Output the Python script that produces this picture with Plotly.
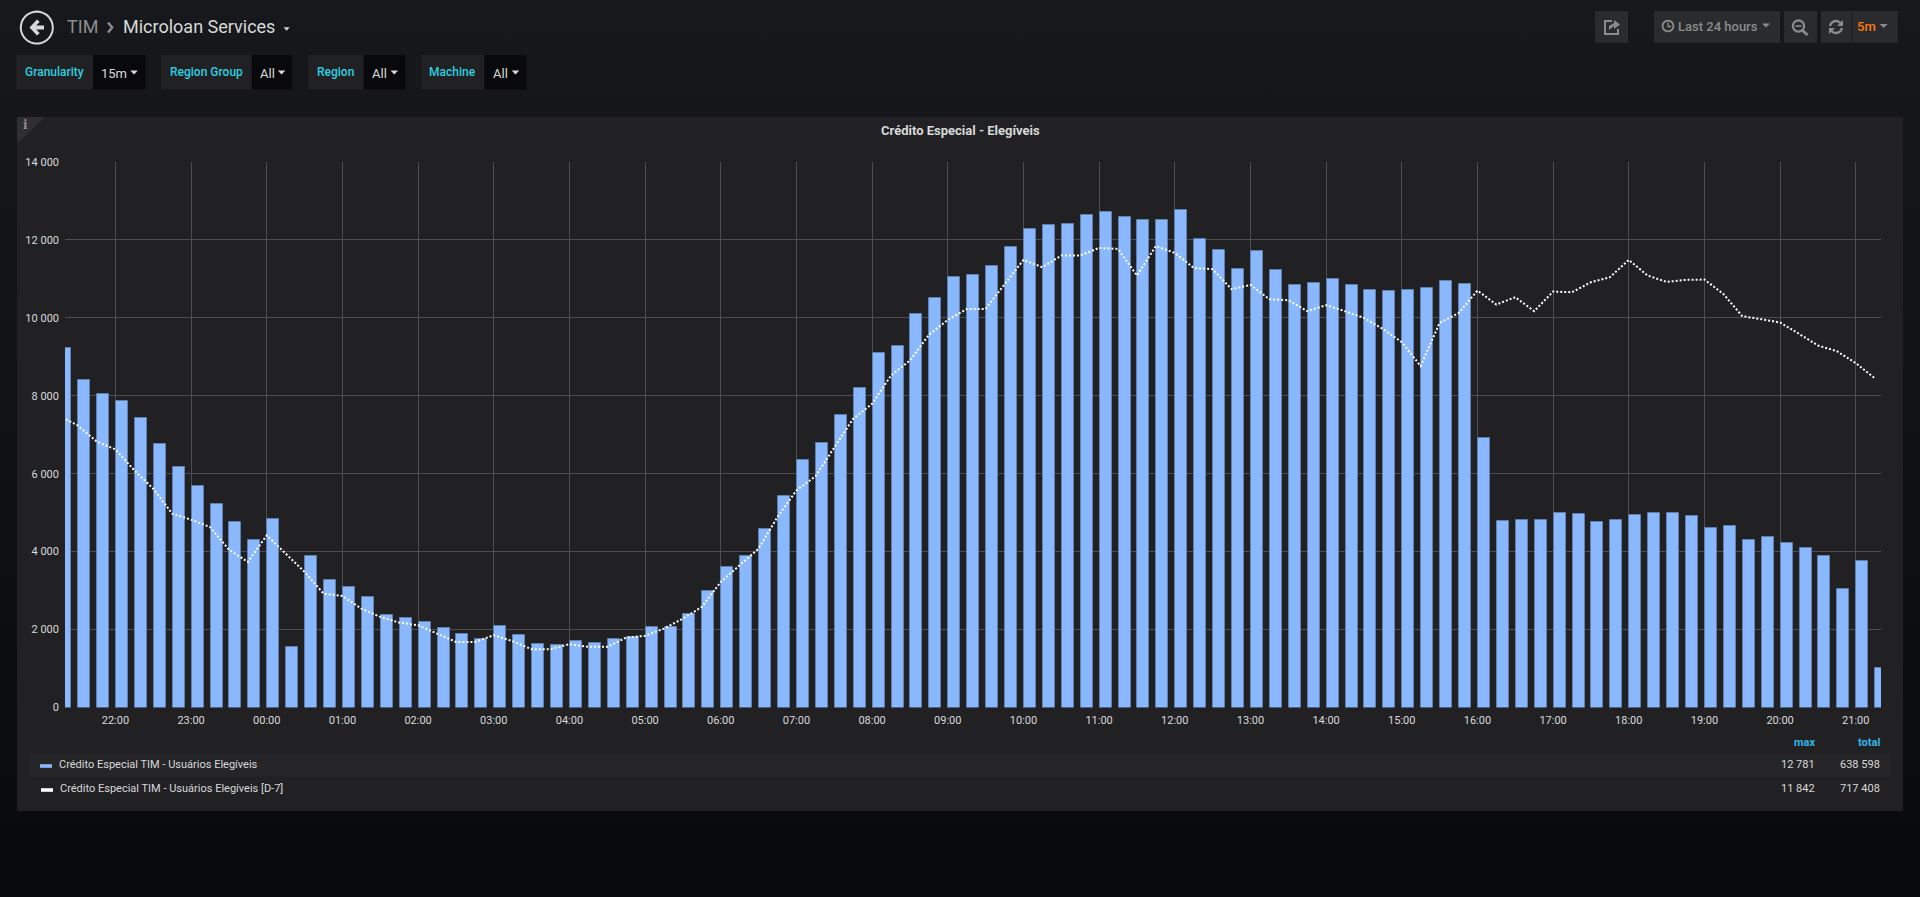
import math
import pandas as pd
import plotly.graph_objects as go

W, H = 1920, 897

# ---- data (15 minute buckets, 21:15 -> next day 21:15) ----
SERIES_A = "Crédito Especial TIM - Usuários Elegíveis"
SERIES_B = "Crédito Especial TIM - Usuários Elegíveis [D-7]"
times = pd.date_range("2019-01-01 21:15", "2019-01-02 21:15", freq="15min")

elegiveis = [
    9231, 8393, 8051, 7872, 7427, 6769, 6162, 5692, 5231, 4769, 4291, 4838, 1556,
    3880, 3282, 3103, 2838, 2385, 2308, 2188, 2043, 1880, 1769, 2103, 1855, 1632,
    1615, 1718, 1658, 1769, 1812, 2068, 2068, 2410, 2983, 3615, 3897, 4573, 5419,
    6342, 6786, 7513, 8205, 9103, 9282, 10103, 10513, 11051, 11103, 11326, 11829,
    12282, 12385, 12419, 12641, 12726, 12581, 12504, 12513, 12781, 12026, 11752,
    11256, 11709, 11231, 10846, 10897, 11009, 10855, 10718, 10701, 10726, 10761,
    10957, 10863, 6923, 4795, 4820, 4820, 5000, 4974, 4769, 4820, 4949, 4983, 4983,
    4906, 4615, 4667, 4308, 4368, 4231, 4094, 3897, 3051, 3769, 1026,
]
elegiveis_d7 = [
    7490, 7240, 6829, 6624, 6085, 5615, 4974, 4820, 4632, 4051, 3735, 4419, 3949,
    3479, 2923, 2863, 2538, 2325, 2179, 2111, 1897, 1684, 1684, 1855, 1701, 1496,
    1496, 1624, 1556, 1556, 1795, 1838, 2026, 2282, 2581, 3222, 3650, 4077, 4889,
    5573, 5932, 6684, 7410, 7795, 8521, 8906, 9564, 9949, 10222, 10231, 10850,
    11487, 11299, 11598, 11598, 11795, 11769, 11085, 11842, 11667, 11282, 11248,
    10735, 10846, 10479, 10453, 10171, 10325, 10171, 10000, 9718, 9376, 8761, 9872,
    10120, 10701, 10342, 10530, 10171, 10675, 10658, 10915, 11043, 11487, 11085,
    10923, 10974, 10983, 10615, 10043, 9966, 9880, 9590, 9291, 9145, 8838, 8453,
]
y_ticks = [0, 2000, 4000, 6000, 8000, 10000, 12000, 14000]
y_tick_labels = ["0", "2 000", "4 000", "6 000", "8 000", "10 000", "12 000", "14 000"]
stats_header = ["max", "total"]
stats_a = ["12 781", "638 598"]
stats_b = ["11 842", "717 408"]

# ---- frame geometry (pixels) ----
PL, PR, PT, PB = 65.0, 1881.0, 162.0, 707.5
PX_PER_HOUR = 75.64

TEXT = "#d8d9da"
TEAL = "#2ccfe0"
BLUE = "#33b5e5"
GREY = "#8e8e8e"
FONT = "Roboto"

fx = lambda x: x / W
fy = lambda y: 1 - y / H

shapes, annotations = [], []


def rect(x0, y0, x1, y1, fill, line=None):
    shapes.append(dict(type="rect", xref="paper", yref="paper", layer="below",
                       x0=fx(x0), x1=fx(x1), y0=fy(y0), y1=fy(y1), fillcolor=fill,
                       line=dict(width=1 if line else 0, color=line or "rgba(0,0,0,0)")))


def poly(points, fill=None, line=None, width=1, closed=True, layer="below"):
    d = "M" + " L".join(f"{fx(x):.6f},{fy(y):.6f}" for x, y in points) + (" Z" if closed else "")
    shapes.append(dict(type="path", xref="paper", yref="paper", layer=layer, path=d,
                       fillcolor=fill or "rgba(0,0,0,0)",
                       line=dict(width=width if line else 0, color=line or "rgba(0,0,0,0)")))


def arc(cx, cy, r, a0, a1, n=24):
    return [(cx + r * math.cos(math.radians(a0 + (a1 - a0) * i / n)),
             cy + r * math.sin(math.radians(a0 + (a1 - a0) * i / n))) for i in range(n + 1)]


def caret(cx, cy, color=TEXT, w=8, h=4):
    poly([(cx - w / 2, cy - h / 2), (cx + w / 2, cy - h / 2), (cx, cy + h / 2)], fill=color)


def text(x, y, s, size=12, color=TEXT, anchor="left", weight=400, family=FONT):
    annotations.append(dict(xref="paper", yref="paper", x=fx(x), y=fy(y), text=s, showarrow=False,
                            xanchor=anchor, yanchor="middle", align=anchor,
                            font=dict(family=family, size=size, color=color, weight=weight),
                            borderpad=0, borderwidth=0))


# ---- panel ----
rect(17, 117, 1903, 811, "#212124")
poly([(17, 117), (44.5, 117), (17, 144)], fill="#2f2f33")
text(25, 125.5, "i", size=12, color="#8e8e8e", anchor="center", weight=700, family="DejaVu Serif")
text(960, 130.5, "Crédito Especial - Elegíveis", size=13, anchor="center", weight=700)

# ---- header ----
poly(arc(36.8, 27.6, 16, 0, 360, 48), line=TEXT, width=2)
poly([(29.5, 27.5), (37, 19.5), (39.7, 22), (36.2, 25.5), (44, 25.5), (44, 29.5), (36.2, 29.5),
      (39.7, 33), (37, 35.5)], fill=TEXT)
text(67, 27, "TIM", size=18, color=GREY)
poly([(108, 22.5), (112.2, 27.5), (108, 32.5)], line=GREY, width=2.4, closed=False)
text(123, 27, "Microloan Services", size=18)
caret(286.6, 29, w=6, h=3.5)

# ---- template variables ----
VARS = [
    ("Granularity", "15m", 16.3, 93.0, 145.3, 101.0, 134.0),
    ("Region Group", "All", 160.8, 251.8, 292.2, 260.0, 281.6),
    ("Region", "All", 308.2, 363.7, 405.3, 371.8, 394.3),
    ("Machine", "All", 421.2, 484.5, 526.5, 493.0, 515.5),
]
for label, value, x0, x1, x2, xv, xc in VARS:
    rect(x0, 55, x1, 89.5, "#212124")
    rect(x1, 55, x2, 89.5, "#09090b")
    text((x0 + x1) / 2, 72.5, label, size=12, color=TEAL, anchor="center", weight=500)
    text(xv, 73, value, size=13)
    caret(xc, 72.5, w=7.5, h=4)

# ---- top right buttons ----
BTN = "#2a2b2e"
BTN_ICON = "#8b8b8b"
rect(1595, 11, 1628, 42.7, BTN)
poly([(1612, 21), (1605, 21), (1605, 34), (1618, 34), (1618, 29)], line=BTN_ICON, width=2, closed=False)
poly([(1609, 30), (1609, 26), (1614, 23), (1614, 20), (1620, 24.5), (1614, 29), (1614, 26)], fill=BTN_ICON)
rect(1654, 11, 1780, 42.7, BTN)
poly(arc(1668, 26, 5.4, 0, 360), line=BTN_ICON, width=1.8)
poly([(1668, 22.5), (1668, 26.5), (1671, 26.5)], line=BTN_ICON, width=1.3, closed=False)
text(1677.5, 26.5, "Last 24 hours", size=13, color=BTN_ICON, weight=500)
caret(1766, 25.5, color=BTN_ICON, w=8, h=4)
rect(1784, 11, 1817, 42.7, BTN)
poly(arc(1798.5, 26, 5.6, 0, 360), line=BTN_ICON, width=2.2)
poly([(1795.5, 26), (1801.5, 26)], line=BTN_ICON, width=1.6, closed=False)
poly([(1802.5, 30.5), (1807.5, 35)], line=BTN_ICON, width=3, closed=False)
rect(1821, 11, 1897.7, 42.7, BTN)
poly([(1851.7, 11), (1851.7, 42.7)], line="#1f2023", width=1, closed=False)
poly(arc(1836, 27, 6, 190, 320, 12), line=BTN_ICON, width=2.4, closed=False)
poly(arc(1836, 27, 6, 10, 140, 12), line=BTN_ICON, width=2.4, closed=False)
poly([(1843, 20), (1843, 26), (1837, 26)], fill=BTN_ICON)
poly([(1829, 34), (1829, 28), (1835, 28)], fill=BTN_ICON)
text(1856.7, 26.5, "5m", size=13, color="#ff780a", weight=500)
caret(1883.7, 26, color=BTN_ICON, w=8, h=4)

# ---- legend table ----
rect(29.8, 753, 1890, 776.7, "#262628")
rect(40, 764.2, 52, 767.8, "#8ab8ff")
rect(41, 788.2, 53, 791.8, "#ffffff")
text(58.8, 764.5, SERIES_A, size=11)
text(59.5, 788.5, SERIES_B, size=11)
text(1815, 742, stats_header[0], size=11, color=BLUE, anchor="right", weight=700)
text(1880, 742, stats_header[1], size=11, color=BLUE, anchor="right", weight=700)
text(1815, 764.5, stats_a[0], size=11, anchor="right")
text(1880, 764.5, stats_a[1], size=11, anchor="right")
text(1815, 788.5, stats_b[0], size=11, anchor="right")
text(1880, 788.5, stats_b[1], size=11, anchor="right")

# ---- traces ----
MS_PER_PX = 3600000 / PX_PER_HOUR
fig = go.Figure()
fig.add_bar(x=times, y=elegiveis, name=SERIES_A, width=12 * MS_PER_PX, offset=0.5 * MS_PER_PX,
            marker=dict(color="#8ab8ff", line=dict(color="#5f7fae", width=1)))
fig.add_scatter(x=times, y=elegiveis_d7, name=SERIES_B, mode="lines",
                line=dict(color="#ffffff", width=2, dash="2px,2px"))

GRID = "#4e4e50"
fig.update_layout(
    width=W, height=H, margin=dict(l=0, r=0, t=0, b=0, pad=0), autosize=False,
    paper_bgcolor="rgba(0,0,0,0)", plot_bgcolor="rgba(0,0,0,0)",
    showlegend=False, bargap=0, shapes=shapes, annotations=annotations,
    font=dict(family=FONT, size=11, color=TEXT),
    xaxis=dict(
        domain=[PL / W, PR / W], type="date",
        range=["2019-01-01 21:20", "2019-01-02 21:20"],
        tick0="2019-01-01 22:00", dtick=3600000, tickformat="%H:%M",
        showgrid=True, gridcolor=GRID, gridwidth=1, zeroline=False, showline=False,
        ticks="", ticklen=0, tickangle=0, tickfont=dict(family=FONT, size=11, color=TEXT),
        ticklabelstandoff=4, automargin=False,
    ),
    yaxis=dict(
        domain=[1 - PB / H, 1 - PT / H], range=[0, 14000],
        tickmode="array", tickvals=y_ticks, ticktext=y_tick_labels,
        showgrid=True, gridcolor=GRID, gridwidth=1, zeroline=False, showline=False,
        ticks="", ticklen=0, tickfont=dict(family=FONT, size=11, color=TEXT),
        ticklabelstandoff=5, automargin=False,
    ),
)

fig.write_html(
    "out.html",
    config={"displayModeBar": False},
    post_script=(
        "document.documentElement.style.height='100%';"
        "document.body.style.margin='0';document.body.style.height='100%';"
        "document.body.style.overflow='hidden';"
        "document.body.style.background='linear-gradient(#17181b 0%,#101114 50%,#08090b 100%)';"
    ),
)
